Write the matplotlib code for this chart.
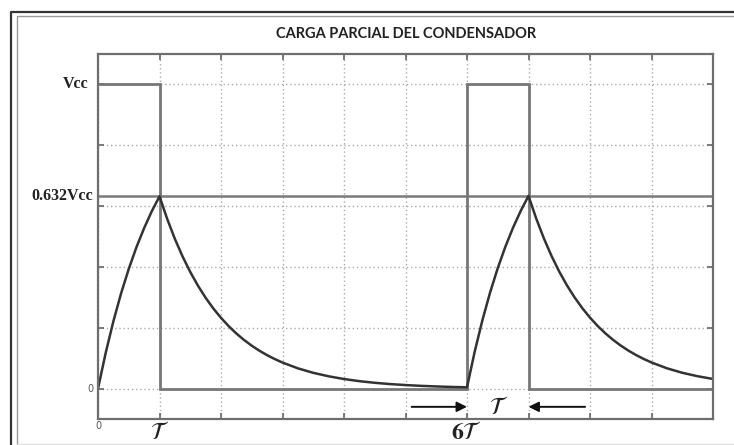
"""
Carga parcial del condensador (pulso de duracion T, periodo 6T)
"""

import matplotlib
matplotlib.use("Agg")
import matplotlib.pyplot as plt
from matplotlib.lines import Line2D

plt.rcParams['mathtext.fontset'] = 'stix'

# Tiempo en unidades de T, tension en divisiones (Vcc = 5 div)
VCC = 5.0
V_632 = 3.16

# Onda cuadrada de entrada
pulse_t = [0, 1, 1, 6, 6, 7, 7, 10]
pulse_v = [5, 5, 0, 0, 5, 5, 0, 0]

charge1_t = [0.0, 0.125, 0.25, 0.375, 0.5, 0.625, 0.75, 0.875, 1.0]
charge1_v = [0.0, 0.587, 1.106, 1.564, 1.967, 2.324, 2.638, 2.916, 3.16]

decay1_t = [1.0, 1.125, 1.25, 1.375, 1.5, 1.625, 1.75, 1.875, 2.0,
            2.125, 2.25, 2.375, 2.5, 2.625, 2.75, 2.875, 3.0,
            3.25, 3.5, 3.75, 4.0, 4.25, 4.5, 4.75, 5.0, 5.25, 5.5, 5.75, 6.0]
decay1_v = [3.16, 2.789, 2.461, 2.172, 1.917, 1.692, 1.493, 1.317, 1.163,
            1.026, 0.905, 0.799, 0.705, 0.622, 0.549, 0.485, 0.428,
            0.333, 0.259, 0.202, 0.157, 0.122, 0.095, 0.074, 0.058, 0.045,
            0.035, 0.027, 0.021]

charge2_t = [6.0, 6.125, 6.25, 6.375, 6.5, 6.625, 6.75, 6.875, 7.0]
charge2_v = [0.021, 0.606, 1.122, 1.578, 1.980, 2.335, 2.648, 2.924, 3.168]

decay2_t = [7.0, 7.125, 7.25, 7.375, 7.5, 7.625, 7.75, 7.875, 8.0,
            8.125, 8.25, 8.375, 8.5, 8.625, 8.75, 8.875, 9.0,
            9.25, 9.5, 9.75, 10.0]
decay2_v = [3.168, 2.797, 2.469, 2.179, 1.923, 1.697, 1.498, 1.322, 1.166,
            1.029, 0.908, 0.801, 0.707, 0.624, 0.551, 0.486, 0.429,
            0.334, 0.260, 0.203, 0.158]

W, H = 734, 445
fig = plt.figure(figsize=(W / 100, H / 100), dpi=100)
fig.patch.set_facecolor('white')

# marco doble de la figura
def fig_line(x, y, **kw):
    fig.add_artist(Line2D([v / W for v in x], [1 - v / H for v in y],
                          transform=fig.transFigure, **kw))

fig_line([11, 11, 760], [470, 12, 12], color='#333333', lw=1.6)
fig_line([17, 17, 760], [444, 16, 16], color='#999999', lw=1.0)
fig_line([17, 760], [444, 444], color='#dddddd', lw=1.0)

ax = fig.add_axes([98 / W, 1 - 419 / H, 615 / W, 365 / H])
ax.set_xlim(0, 10)
ax.set_ylim(-0.5, 5.5)

ax.set_xticks(range(0, 11))
ax.set_yticks(range(0, 6))
ax.set_xticklabels([])
ax.set_yticklabels([])
ax.tick_params(direction='in', length=4, width=1.2, color='#666666',
               top=True, right=True)
ax.grid(True, linestyle=(0, (1, 2)), color='#aaaaaa', lw=1.0)
for s in ax.spines.values():
    s.set_color('#6e6e6e')
    s.set_linewidth(1.6)

# linea de 0.632 Vcc
ax.axhline(V_632, color='#7a7a7a', lw=1.8)
ax.plot(pulse_t, pulse_v, color='#777777', lw=2.0, solid_joinstyle='miter')
ax.plot(charge1_t + decay1_t[1:] + charge2_t[1:] + decay2_t[1:],
        charge1_v + decay1_v[1:] + charge2_v[1:] + decay2_v[1:],
        color='#333333', lw=1.8)

# etiquetas
serif = dict(family='Liberation Serif', fontweight='bold', color='#222222')
ax.text(-0.15, VCC, 'Vcc', ha='right', va='center', fontsize=11.5, **serif)
ax.text(-0.08, V_632, '0.632Vcc', ha='right', va='center', fontsize=11.5, **serif)
ax.text(-0.08, 0, '0', ha='right', va='center', fontsize=7, color='#555555')
ax.text(0, -0.62, '0', ha='center', va='center', fontsize=7, color='#555555')
ax.text(1, -0.72, r'$\mathcal{T}$', ha='center', va='center', fontsize=17,
        color='#222222')
ax.text(6, -0.72, r'$\mathbf{6}\mathcal{T}$', ha='center', va='center', fontsize=17,
        color='#222222')
ax.text(6.52, -0.3, r'$\mathcal{T}$', ha='center', va='center', fontsize=17,
        color='#222222')

arrow = dict(arrowstyle='-|>', color='#111111', lw=1.4, mutation_scale=15,
             shrinkA=0, shrinkB=0)
ax.annotate('', xy=(6.0, -0.3), xytext=(5.1, -0.3), arrowprops=arrow,
            annotation_clip=False)
ax.annotate('', xy=(7.0, -0.3), xytext=(7.92, -0.3), arrowprops=arrow,
            annotation_clip=False)

fig.text(406 / W, 1 - 34 / H, 'CARGA PARCIAL DEL CONDENSADOR', ha='center',
         va='center', fontsize=10.5, family='Lato', fontweight='bold',
         color='#222222')

fig.savefig('out.png', dpi=100)
